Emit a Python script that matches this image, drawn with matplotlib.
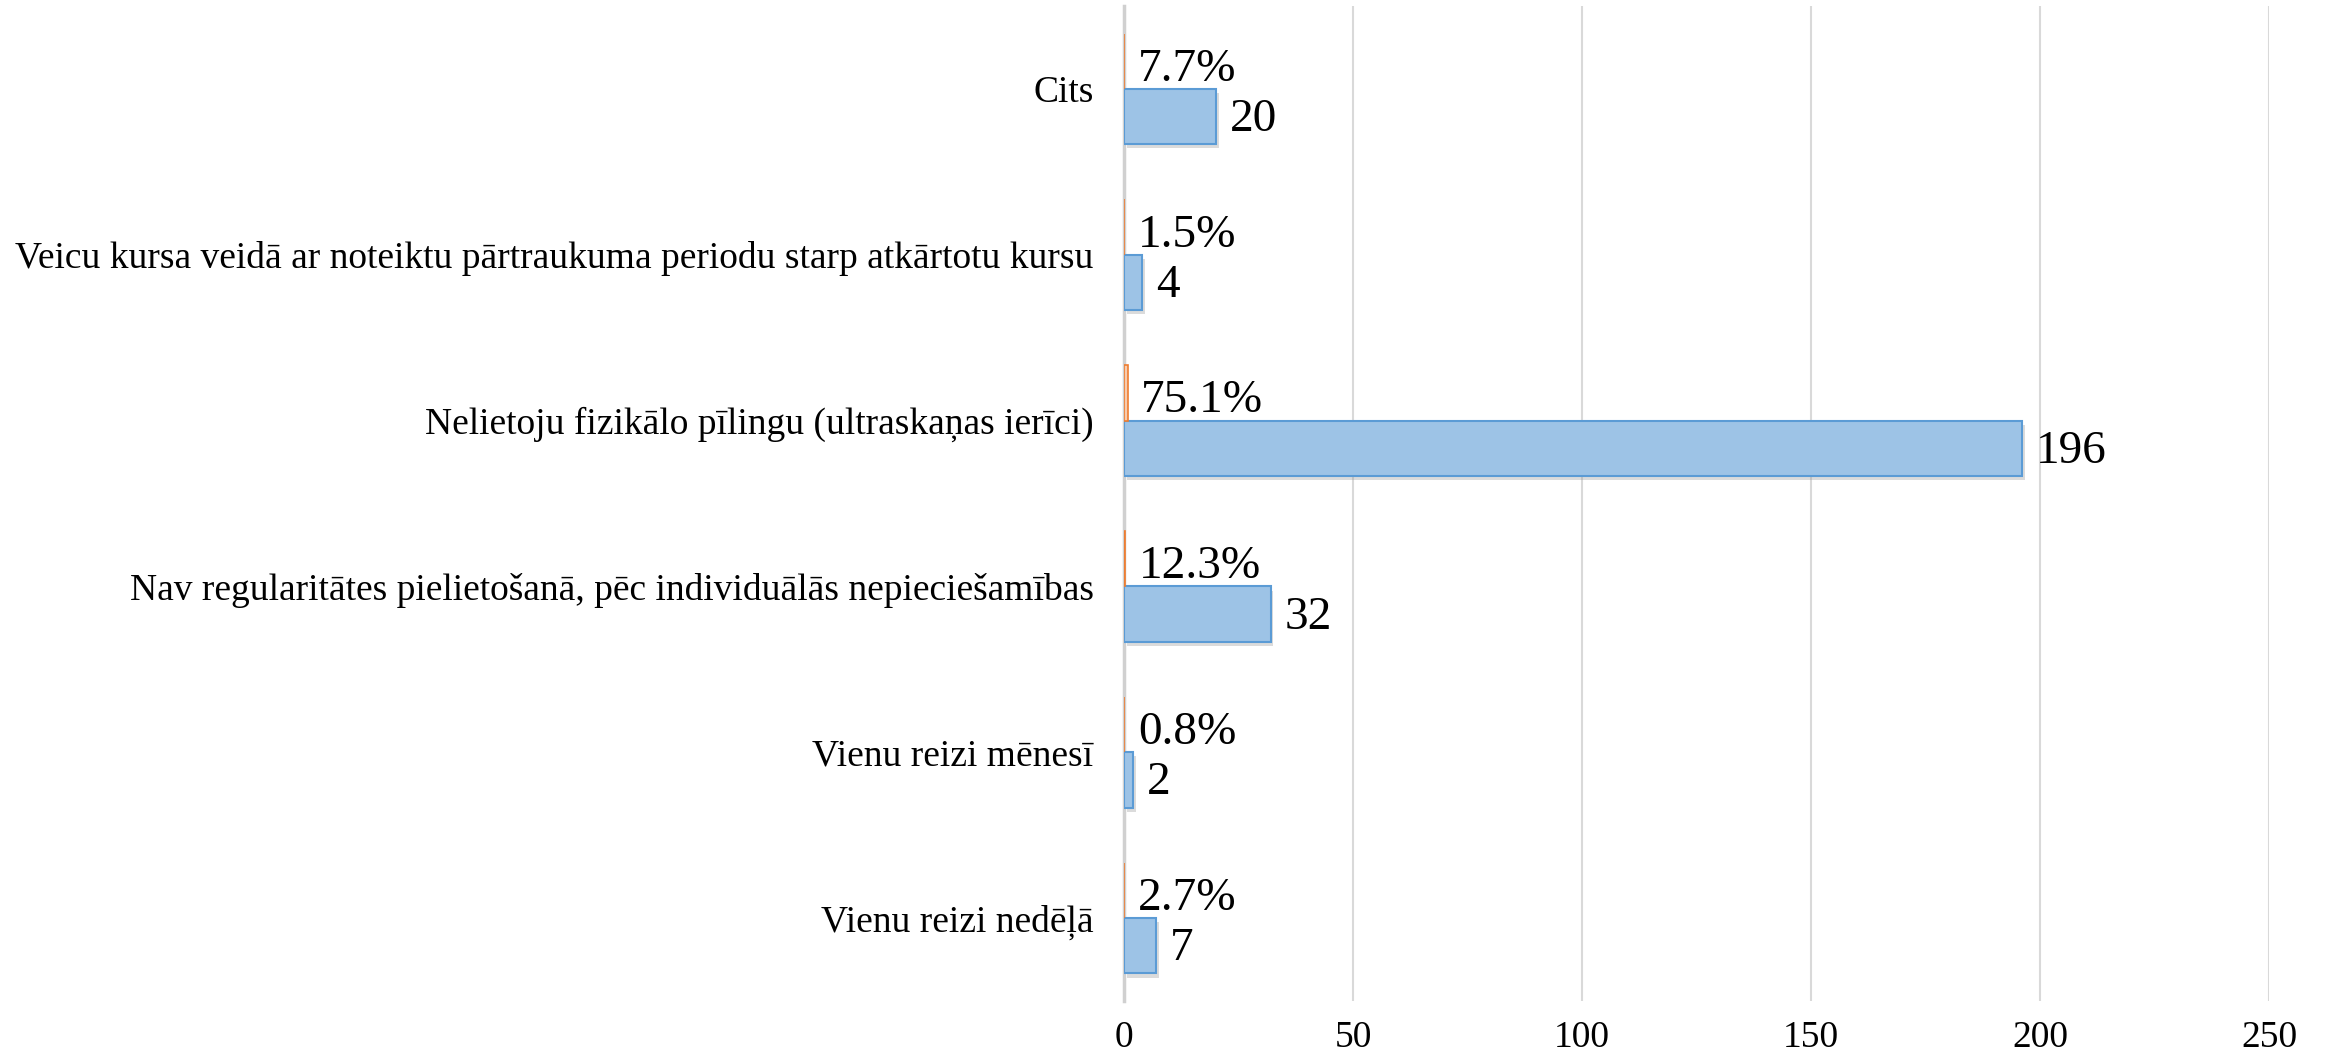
"""Horizontal bar chart: fizikālā pīlinga lietošanas biežums (skaits un %)."""

import matplotlib

matplotlib.use("Agg")
import matplotlib.pyplot as plt
import matplotlib.patheffects as pe

# data, bottom to top
categories = [
    "Vienu reizi nedēļā",
    "Vienu reizi mēnesī",
    "Nav regularitātes pielietošanā, pēc individuālās nepieciešamības",
    "Nelietoju fizikālo pīlingu (ultraskaņas ierīci)",
    "Veicu kursa veidā ar noteiktu pārtraukuma periodu starp atkārtotu kursu",
    "Cits",
]
counts = [7, 2, 32, 196, 4, 20]
shares = [0.027, 0.008, 0.123, 0.751, 0.015, 0.077]
x_ticks = [0, 50, 100, 150, 200, 250]

plt.rcParams["font.family"] = ["Liberation Serif", "DejaVu Serif"]

fig = plt.figure(figsize=(23.25, 10.62), dpi=100)
ax = fig.add_axes([0.4835, 0.0574, 0.4925, 0.937])

h = 1 / 3
ypos = list(range(len(categories)))
blue_y = [y - h / 2 for y in ypos]
orange_y = [y + h / 2 for y in ypos]

shadow = [pe.SimplePatchShadow(offset=(2, -3), shadow_rgbFace="#999999", alpha=0.35), pe.Normal()]
ax.barh(blue_y, counts, height=h, color="#9DC3E6", edgecolor="#5B9BD5",
        linewidth=1.5, zorder=3, path_effects=shadow)
ax.barh(orange_y, shares, height=h, color="#F8CBAD", edgecolor="#ED7D31",
        linewidth=1.2, zorder=3)

for y, c in zip(blue_y, counts):
    ax.text(c + 3, y - 0.02, str(c), va="center", ha="left", fontsize=34, zorder=4)
for y, s in zip(orange_y, shares):
    ax.text(s + 3, y - 0.05, f"{s:.1%}", va="center", ha="left", fontsize=34, zorder=4)

ax.set_xlim(0, 250)
ax.set_ylim(-0.5, len(categories) - 0.5)
ax.set_xticks(x_ticks)
ax.set_yticks(ypos)
ax.set_yticklabels(categories, fontsize=27)
ax.tick_params(axis="x", labelsize=27, length=0, pad=14)
ax.tick_params(axis="y", length=0, pad=22)

ax.grid(axis="x", color="#D9D9D9", linewidth=1.5, zorder=0)
ax.set_axisbelow(True)
for side in ["top", "right", "bottom"]:
    ax.spines[side].set_visible(False)
ax.spines["left"].set_color("#D0D0D0")
ax.spines["left"].set_linewidth(2.5)

fig.savefig("out.png", dpi=100)
plt.close(fig)
